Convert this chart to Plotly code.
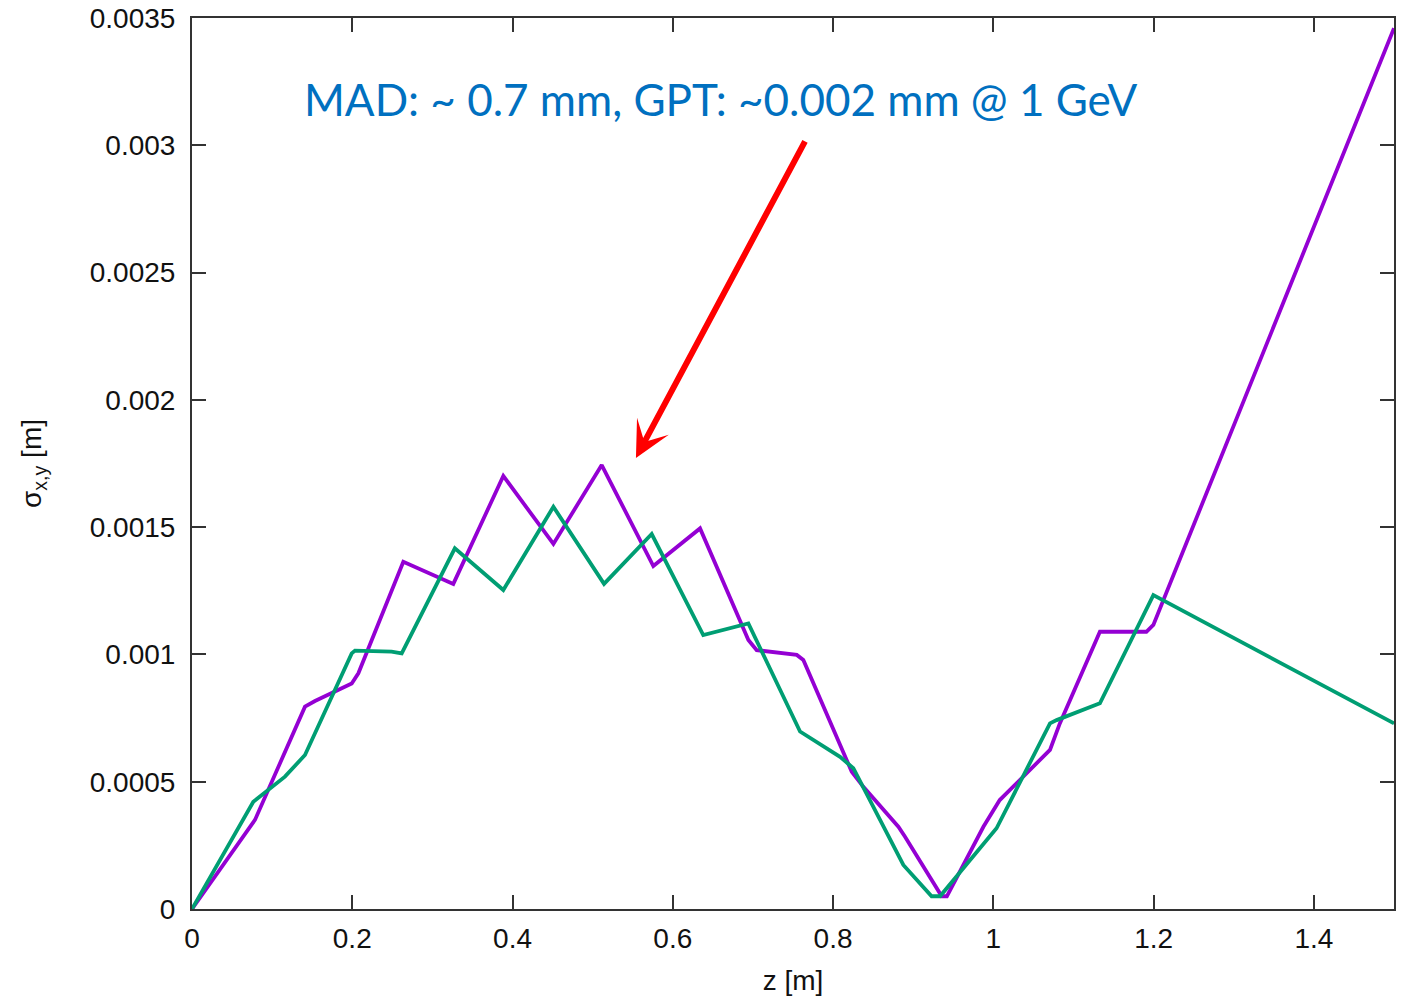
import plotly.graph_objects as go

# data
z_mad = [0, 0.0786, 0.141, 0.1535, 0.1993, 0.2076, 0.2637, 0.3261, 0.3885, 0.451,
         0.5113, 0.5757, 0.634, 0.6943, 0.7047, 0.7547, 0.7629, 0.8233, 0.8378,
         0.8815, 0.8898, 0.9356, 0.942, 0.9876, 1.008, 1.058, 1.0707, 1.083,
         1.133, 1.191, 1.1997, 1.5]
sig_mad = [0, 0.000350, 0.000795, 0.000817, 0.000886, 0.000926, 0.001364, 0.001277,
           0.001701, 0.001434, 0.001744, 0.001347, 0.001495, 0.001057, 0.001017,
           0.000998, 0.000978, 0.000539, 0.000480, 0.000323, 0.000284, 0.000050,
           0.000050, 0.000323, 0.000428, 0.000585, 0.000625, 0.000729, 0.001089,
           0.001089, 0.001116, 0.00346]

z_gpt = [0, 0.0765, 0.116, 0.141, 0.1993, 0.2034, 0.249, 0.2617, 0.328, 0.3885,
         0.451, 0.5142, 0.5737, 0.638, 0.6943, 0.7588, 0.8087, 0.8253, 0.8877,
         0.923, 0.9335, 0.9522, 1.004, 1.0707, 1.079, 1.133, 1.1997, 1.5]
sig_gpt = [0, 0.000421, 0.000520, 0.000605, 0.001004, 0.001015, 0.001011, 0.001004,
           0.001417, 0.001253, 0.001580, 0.001277, 0.001473, 0.001076, 0.001122,
           0.000697, 0.000598, 0.000553, 0.000173, 0.000050, 0.000050, 0.000121,
           0.000317, 0.000729, 0.000742, 0.000808, 0.001233, 0.000729]

x_ticks = [0, 0.2, 0.4, 0.6, 0.8, 1.0, 1.2, 1.4]
x_ticktext = ["0", "0.2", "0.4", "0.6", "0.8", "1", "1.2", "1.4"]
y_ticks = [0, 0.0005, 0.001, 0.0015, 0.002, 0.0025, 0.003, 0.0035]
y_ticktext = ["0", "0.0005", "0.001", "0.0015", "0.002", "0.0025", "0.003", "0.0035"]

note_text = "MAD: ~ 0.7 mm, GPT: ~0.002 mm @ 1 GeV"

fig = go.Figure()
fig.add_trace(go.Scatter(x=z_mad, y=sig_mad, mode="lines",
                         line=dict(color="#9400D3", width=3.8), name="MAD"))
fig.add_trace(go.Scatter(x=z_gpt, y=sig_gpt, mode="lines",
                         line=dict(color="#009E73", width=3.8), name="GPT"))

axis_font = dict(family="Liberation Sans, Arial, sans-serif", size=28, color="#111111")
title_font = dict(family="Liberation Sans, Arial, sans-serif", size=28, color="#111111")

fig.update_xaxes(range=[0, 1.5], tickvals=x_ticks, ticktext=x_ticktext,
                 ticks="inside", ticklen=14, tickwidth=2, tickcolor="#333333",
                 showline=True, linewidth=2, linecolor="#333333", mirror="ticks",
                 showgrid=False, zeroline=False, tickfont=axis_font, automargin=False,
                 ticklabelstandoff=3,
                 title=dict(text="z [m]", font=title_font, standoff=20))
fig.update_yaxes(range=[0, 0.0035], tickvals=y_ticks, ticktext=y_ticktext,
                 ticks="inside", ticklen=14, tickwidth=2, tickcolor="#333333",
                 showline=True, linewidth=2, linecolor="#333333", mirror="ticks",
                 showgrid=False, zeroline=False, tickfont=axis_font, automargin=False,
                 ticklabelstandoff=9,
                 title=dict(text="σ<sub>x,y</sub> [m]", font=title_font, standoff=40))

fig.add_annotation(x=0.660, y=0.00318, xref="x", yref="y", text=note_text,
                   showarrow=False, xanchor="center", yanchor="middle",
                   font=dict(family="Lato, Carlito, sans-serif", size=44, color="#0070C0"))
fig.add_annotation(x=0.554, y=0.001772, ax=0.766, ay=0.003021,
                   xref="x", yref="y", axref="x", ayref="y", text="",
                   showarrow=True, arrowhead=3, arrowsize=1, arrowwidth=6,
                   arrowcolor="#FF0000")

fig.update_layout(width=1411, height=996, plot_bgcolor="white", paper_bgcolor="white",
                  margin=dict(l=192, r=17, t=18, b=87, autoexpand=False), showlegend=False)

fig.write_html("out.html")
